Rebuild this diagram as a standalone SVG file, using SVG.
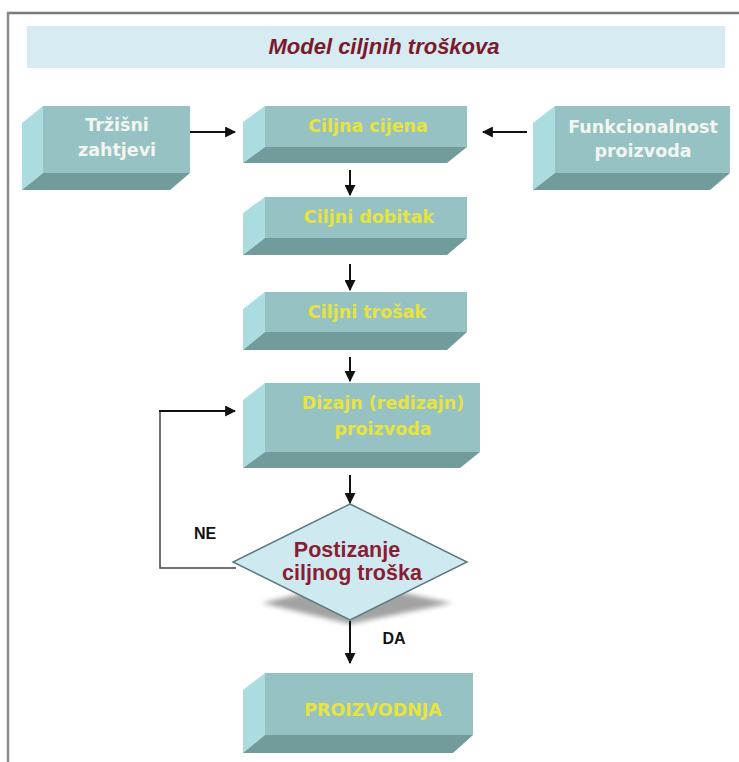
<svg xmlns="http://www.w3.org/2000/svg" width="739" height="762" viewBox="0 0 739 762">
<style>
.front{fill:#97c2c3}
.side{fill:#abdcdf}
.bottom{fill:#729c9c}
.w{font-family:"DejaVu Sans",sans-serif;font-weight:bold;font-size:17.5px;fill:#f3f6f0;text-anchor:middle}
.y{font-family:"DejaVu Sans",sans-serif;font-weight:bold;font-size:17.5px;fill:#e8e43e;text-anchor:middle}
.red{font-family:"Liberation Sans",sans-serif;font-weight:bold;font-size:21.5px;fill:#8a1d33;text-anchor:middle}
.lbl{font-family:"Liberation Sans",sans-serif;font-weight:bold;font-size:16px;fill:#111;text-anchor:middle}
.c{stroke:#111;stroke-width:2;fill:none}
</style>
<defs>
<marker id="ah" viewBox="0 0 10 10" refX="9" refY="5" markerWidth="5.5" markerHeight="5.5" orient="auto" markerUnits="strokeWidth">
<path d="M0,0 L10,5 L0,10 z" fill="#111"/>
</marker>
<filter id="blur" x="-20%" y="-50%" width="140%" height="200%"><feGaussianBlur stdDeviation="2.5"/></filter>
</defs>
<rect width="739" height="762" fill="#fff"/>
<line x1="7" y1="13" x2="739" y2="13" stroke="#7a7a7a" stroke-width="2.5"/>
<line x1="8" y1="12" x2="8" y2="762" stroke="#8a8a8a" stroke-width="2.5"/>

<g id="title">
<rect x="27" y="26" width="698" height="42" fill="#d6ebf2"/>
<text x="384" y="54" font-family="Liberation Sans, sans-serif" font-weight="bold" font-style="italic" font-size="22" fill="#7a1a2c" text-anchor="middle">Model ciljnih troškova</text>
</g>

<g id="trzisni">
<polygon class="side" points="22,123 43,106 43,173 22,190"/>
<polygon class="bottom" points="43,173 190,173 170,190 22,190"/>
<rect class="front" x="43" y="106" width="147" height="67"/>
<text class="w" x="117" y="131">Tržišni</text>
<text class="w" x="117" y="156">zahtjevi</text>
</g>

<g id="ciljna-cijena">
<polygon class="side" points="243,122 265,106 265,147 243,163"/>
<polygon class="bottom" points="265,147 467,147 447,163 243,163"/>
<rect class="front" x="265" y="106" width="202" height="41"/>
<text class="y" x="368" y="132">Ciljna cijena</text>
</g>

<g id="funkcionalnost">
<polygon class="side" points="533,123 555,106 555,173 533,190"/>
<polygon class="bottom" points="555,173 730,173 710,190 533,190"/>
<rect class="front" x="555" y="106" width="175" height="67"/>
<text class="w" x="643" y="133">Funkcionalnost</text>
<text class="w" x="643" y="157">proizvoda</text>
</g>

<g id="ciljni-dobitak">
<polygon class="side" points="243,213 265,197 265,238 243,255"/>
<polygon class="bottom" points="265,238 467,238 447,255 243,255"/>
<rect class="front" x="265" y="197" width="202" height="41"/>
<text class="y" x="369" y="223">Ciljni dobitak</text>
</g>

<g id="ciljni-trosak">
<polygon class="side" points="243,309 265,292 265,332 243,350"/>
<polygon class="bottom" points="265,332 467,332 447,350 243,350"/>
<rect class="front" x="265" y="292" width="202" height="40"/>
<text class="y" x="367" y="318">Ciljni trošak</text>
</g>

<g id="dizajn">
<polygon class="side" points="243,400 265,383 265,452 243,468"/>
<polygon class="bottom" points="265,452 480,452 460,468 243,468"/>
<rect class="front" x="265" y="383" width="215" height="69"/>
<text class="y" x="383" y="409">Dizajn (redizajn)</text>
<text class="y" x="383" y="435">proizvoda</text>
</g>

<g id="postizanje">
<polygon points="262,603 350,582 452,603 350,624" fill="#a2a2a2" filter="url(#blur)"/>
<polygon points="350,504 467,562 350,620 233,562" fill="#cfe9f0" stroke="#5c7a80" stroke-width="1.5"/>
<text class="red" x="347" y="557">Postizanje</text>
<text class="red" x="352" y="580">ciljnog troška</text>
</g>

<g id="proizvodnja">
<polygon class="side" points="243,690 265,673 265,735 243,753"/>
<polygon class="bottom" points="265,735 473,735 453,753 243,753"/>
<rect class="front" x="265" y="673" width="208" height="62"/>
<text class="y" x="373" y="716">PROIZVODNJA</text>
</g>

<g id="connectors">
<line class="c" x1="190" y1="132" x2="235" y2="132" marker-end="url(#ah)"/>
<line class="c" x1="527" y1="132" x2="483" y2="132" marker-end="url(#ah)"/>
<line class="c" x1="350" y1="170" x2="350" y2="195" marker-end="url(#ah)"/>
<line class="c" x1="350" y1="264" x2="350" y2="290" marker-end="url(#ah)"/>
<line class="c" x1="350" y1="357" x2="350" y2="381" marker-end="url(#ah)"/>
<line class="c" x1="350" y1="475" x2="350" y2="503" marker-end="url(#ah)"/>
<line class="c" x1="350" y1="621" x2="350" y2="663" marker-end="url(#ah)"/>
<polyline points="236,568 160,568 160,411" fill="none" stroke="#444" stroke-width="1.5"/>
<line class="c" x1="159" y1="411" x2="235" y2="411" marker-end="url(#ah)"/>
<text class="lbl" x="205" y="539">NE</text>
<text class="lbl" x="394" y="644">DA</text>
</g>
</svg>
